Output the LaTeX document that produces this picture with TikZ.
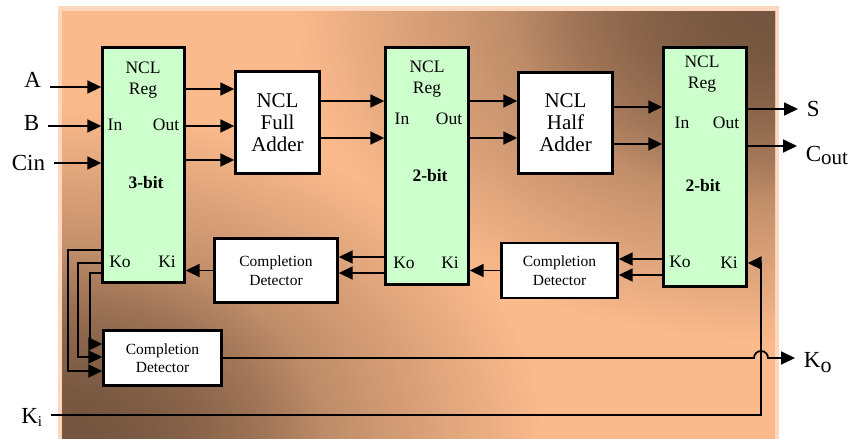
\documentclass[tikz,border=0pt]{standalone}
\usepackage{fontspec}
\setmainfont{Liberation Serif}
\usetikzlibrary{positioning}
\usetikzlibrary{arrows.meta, fadings}

\definecolor{regfill}{HTML}{CCFFCC}
\definecolor{bgpeach}{HTML}{FBBA8C}
\definecolor{bgbrown}{HTML}{765640}
\definecolor{bgedge}{HTML}{FDD6BE}

\tikzfading[name=cornerfade, inner color=transparent!0, outer color=transparent!100]

\tikzset{
  reg/.style={draw, fill=regfill, line width=2.4pt, inner sep=0pt},
  blk/.style={draw, fill=white, line width=2.4pt, inner sep=0pt, align=center},
  regtxt/.style={font=\fontsize{17.5}{21}\selectfont, align=center, inner sep=0pt},
  bittxt/.style={font=\fontsize{17.5}{21}\selectfont\bfseries, inner sep=0pt},
  addtxt/.style={font=\fontsize{21}{22}\selectfont},
  cdtxt/.style={font=\fontsize{15.5}{18.5}\selectfont},
  lbl/.style={font=\fontsize{23}{23}\selectfont, inner sep=8pt},
  corner/.style={fill=bgbrown, path fading=cornerfade}
}

\begin{document}
\begin{tikzpicture}[x=1pt, y=-1pt, >={Triangle[length=14pt,width=13pt]}, line width=1.8pt]

\useasboundingbox (0,0) rectangle (849,439);

% background
\fill[bgedge] (58,6) rectangle (779,439);
\begin{scope}
  \clip (62,11) rectangle (775,439);
  \fill[bgpeach] (62,11) rectangle (775,439);
  \path[corner] (62,439) ellipse [x radius=480pt, y radius=330pt];
  \path[corner] (62,439) ellipse [x radius=260pt, y radius=190pt];
  \path[corner] (775,11) ellipse [x radius=480pt, y radius=330pt];
  \path[corner] (775,11) ellipse [x radius=260pt, y radius=190pt];
\end{scope}

% registers
\node[reg, minimum width=82pt, minimum height=235pt] (r1) at (143.5,165) {};
\node[reg, minimum width=83pt, minimum height=237pt] (r2) at (427,166) {};
\node[reg, minimum width=83pt, minimum height=239pt] (r3) at (705,167) {};

\node[regtxt] (r1ncl) at (143,80) {NCL\\Reg};
\node[regtxt] (r1in) at (115,125) {In};
\node[regtxt] (r1out) at (166,125) {Out};
\node[bittxt] (r1bit) at (146,183) {3-bit};
\node[regtxt] (r1ko) at (120,262) {Ko};
\node[regtxt] (r1ki) at (167,262) {Ki};

\node[regtxt] (r2ncl) at (427,79) {NCL\\Reg};
\node[regtxt] (r2in) at (402,119) {In};
\node[regtxt] (r2out) at (449,119) {Out};
\node[bittxt] (r2bit) at (430,176) {2-bit};
\node[regtxt] (r2ko) at (404,263) {Ko};
\node[regtxt] (r2ki) at (450,263) {Ki};

\node[regtxt] (r3ncl) at (702,74) {NCL\\Reg};
\node[regtxt] (r3in) at (682,123) {In};
\node[regtxt] (r3out) at (726,123) {Out};
\node[bittxt] (r3bit) at (703,186) {2-bit};
\node[regtxt] (r3ko) at (680,262) {Ko};
\node[regtxt] (r3ki) at (729,263) {Ki};

% adders
\node[blk, addtxt, minimum width=84pt, minimum height=102pt] (fa) at (277.5,122.5) {NCL\\Full\\Adder};
\node[blk, addtxt, minimum width=94pt, minimum height=101pt] (ha) at (565.5,123) {NCL\\Half\\Adder};

% completion detectors
\node[blk, cdtxt, minimum width=123pt, minimum height=64pt] (cd1) at (276,270.5) {Completion\\Detector};
\node[blk, cdtxt, minimum width=116pt, minimum height=55pt] (cd2) at (559.5,270.5) {Completion\\Detector};
\node[blk, cdtxt, minimum width=118pt, minimum height=55pt] (cd3) at (162.5,358) {Completion\\Detector};

% outside labels
\node[lbl, anchor=base east] (lA) at (50,87) {A};
\node[lbl, anchor=base east] (lB) at (48,130) {B};
\node[lbl, anchor=base east] (lCin) at (54,170) {Cin};
\node[lbl, anchor=base west] (lS) at (798,116) {S};
\node[lbl, anchor=base west] (lCout) at (797,161) {C{\fontsize{21}{21}\selectfont\raisebox{-3pt}{out}}};
\node[lbl, anchor=base west] (lKo) at (795,367) {K{\fontsize{22}{22}\selectfont\raisebox{-5pt}{o}}};
\node[lbl, anchor=base east] (lKi) at (51,423) {K{\fontsize{15}{15}\selectfont\raisebox{-3pt}{i}}};

% data path
\draw[->] (lA.base east |- 0,87) -- (r1.west |- 0,87);
\draw[->] (lB.base east |- 0,126) -- (r1.west |- 0,126);
\draw[->] (lCin.base east |- 0,163) -- (r1.west |- 0,163);

\draw[->] (r1.east |- 0,89) -- (fa.west |- 0,89);
\draw[->] (r1.east |- 0,126) -- (fa.west |- 0,126);
\draw[->] (r1.east |- 0,160) -- (fa.west |- 0,160);

\draw[->] (fa.east |- 0,101) -- (r2.west |- 0,101);
\draw[->] (fa.east |- 0,138) -- (r2.west |- 0,138);
\draw[->] (r2.east |- 0,101) -- (ha.west |- 0,101);
\draw[->] (r2.east |- 0,138) -- (ha.west |- 0,138);

\draw[->] (ha.east |- 0,107) -- (r3.west |- 0,107);
\draw[->] (ha.east |- 0,144) -- (r3.west |- 0,144);
\draw[->] (r3.east |- 0,109) -- (lS.west |- 0,109);
\draw[->] (r3.east |- 0,146) -- (lCout.west |- 0,146);

% handshake path
\draw[->] (r3.west |- 0,259) -- (cd2.east |- 0,259);
\draw[->] (r3.west |- 0,275) -- (cd2.east |- 0,275);
\draw[->] (cd2.west) -- (r2.east |- cd2.west);
\draw[->] (r2.west |- 0,257) -- (cd1.east |- 0,257);
\draw[->] (r2.west |- 0,273) -- (cd1.east |- 0,273);
\draw[->] (cd1.west) -- (r1.east |- cd1.west);

\draw[->] (r1.west |- 0,250) -| (68,371) -- (cd3.west |- 0,371);
\draw[->] (r1.west |- 0,263) -| (78,357) -- (cd3.west |- 0,357);
\draw[->] (r1.west |- 0,273) -| (90,344) -- (cd3.west |- 0,344);

\draw[->] (cd3.east) -- (754,358) arc[start angle=180, end angle=0, radius=7pt] -- (lKo.west |- cd3.east);
\draw[->] (lKi.base east |- 0,415) -- (761,415) |- (r3.east |- 0,263);

\end{tikzpicture}
\end{document}
